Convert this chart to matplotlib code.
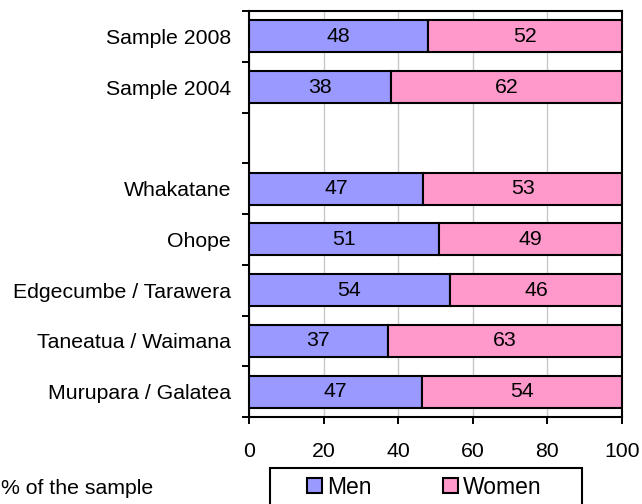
import numpy as np
import matplotlib
matplotlib.use("Agg")
import matplotlib.pyplot as plt
from matplotlib.patches import Rectangle

plt.rcParams['font.family'] = ['Liberation Sans', 'DejaVu Sans']

# rows from top to bottom, "" is the empty spacer row
categories = ["Sample 2008", "Sample 2004", "", "Whakatane", "Ohope",
              "Edgecumbe / Tarawera", "Taneatua / Waimana", "Murupara / Galatea"]
men = [48.1, 38.0, 0, 46.7, 51.0, 53.9, 37.2, 46.5]
women = [51.9, 62.0, 0, 53.3, 49.0, 46.1, 62.8, 53.5]
men_labels = ["48", "38", "", "47", "51", "54", "37", "47"]
women_labels = ["52", "62", "", "53", "49", "46", "63", "54"]

c_men = "#9999FF"
c_women = "#FF99CC"
fs = 15.3

fig = plt.figure(figsize=(6.42, 5.04), dpi=100)
ax = fig.add_axes([249/642, 1-417/504, 373/642, 406/504])

n = len(categories)
y = np.arange(n)[::-1]
for i in range(n):
    if categories[i] == "":
        continue
    ax.barh(y[i], men[i], height=0.63, color=c_men, edgecolor="k", linewidth=1.5, zorder=3)
    ax.barh(y[i], women[i], left=men[i], height=0.63, color=c_women, edgecolor="k",
            linewidth=1.5, zorder=3)
    ax.text(men[i]/2, y[i], men_labels[i], ha="center", va="center", fontsize=fs, zorder=4)
    ax.text(men[i] + women[i]/2, y[i], women_labels[i], ha="center", va="center",
            fontsize=fs, zorder=4)

ax.set_xlim(0, 100)
ax.set_ylim(-0.5, n - 0.5)
ax.set_xticks(np.arange(0, 101, 20))
ax.tick_params(axis="x", direction="out", length=5, width=1.4, labelsize=fs, pad=13)
ax.xaxis.grid(True, color="#C8C8C8", linewidth=1, zorder=0)

ax.set_yticks(np.arange(-0.5, n, 1.0))
ax.set_yticklabels([])
ax.set_yticks(y, minor=True)
ax.set_yticklabels(categories, minor=True)
ax.tick_params(axis="y", which="major", direction="out", length=5, width=1.4)
ax.tick_params(axis="y", which="minor", length=0, labelsize=fs, pad=13)

for s in ax.spines.values():
    s.set_linewidth(1.5)
    s.set_color("k")

fig.text(1/642, 1-488/504, "% of the sample", fontsize=fs, ha="left", va="center")

# legend box, runs past the bottom edge like the original
fig.patches.append(Rectangle((270/642, -20/504), 312/642, (504-468+20)/504,
                             transform=fig.transFigure, fill=False, edgecolor="k",
                             linewidth=1.5))
for px, col, lab in [(307, c_men, "Men"), (443, c_women, "Women")]:
    fig.patches.append(Rectangle((px/642, 1-493/504), 15/642, 15/504,
                                 transform=fig.transFigure, facecolor=col,
                                 edgecolor="k", linewidth=1.5))
    fig.text((px+20)/642, 1-487/504, lab, fontsize=16.5, ha="left", va="center")

fig.savefig("out.png", dpi=100)
